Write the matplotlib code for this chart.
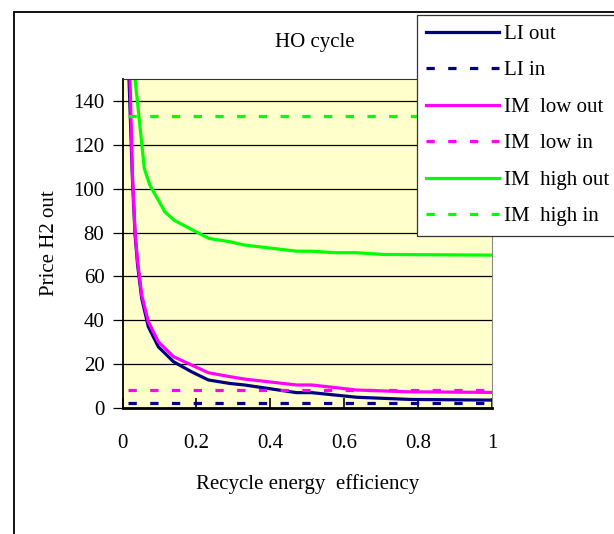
import matplotlib
matplotlib.use("Agg")
import matplotlib.pyplot as plt
from matplotlib.patches import Rectangle

plt.rcParams["font.family"] = ["Liberation Serif", "DejaVu Serif"]

# LI out
li_out_x = [0.016, 0.027, 0.034, 0.041, 0.052, 0.07, 0.097, 0.138, 0.187, 0.232, 0.29, 0.33, 0.471, 0.512, 0.634, 0.78, 1.0]
li_out_y = [158, 104, 79, 65, 50, 37, 27.9, 21.1, 16.5, 12.8, 11.2, 10.5, 7.0, 7.0, 4.9, 3.9, 3.6]
# IM low out
im_low_out_x = [0.016, 0.027, 0.034, 0.041, 0.052, 0.07, 0.097, 0.138, 0.187, 0.232, 0.29, 0.33, 0.471, 0.512, 0.634, 0.77, 1.0]
im_low_out_y = [178, 106, 80.3, 66.7, 51.5, 39.3, 30.2, 23.4, 19.6, 16.1, 14.3, 13.2, 10.5, 10.5, 8.2, 7.4, 7.1]
# IM high out
im_high_out_x = [0.02, 0.041, 0.059, 0.074, 0.115, 0.14, 0.196, 0.234, 0.291, 0.33, 0.471, 0.512, 0.575, 0.634, 0.706, 1.0]
im_high_out_y = [172, 138.8, 109.2, 101.6, 89.4, 85.6, 80.6, 77.3, 75.8, 74.3, 71.5, 71.5, 70.8, 70.8, 70.0, 69.7]
# "in" prices (constant)
in_x = [0.016, 1.0]
li_in_y = [2.4, 2.4]
im_low_in_y = [8.2, 8.2]
im_high_in_y = [133.2, 133.2]

navy = "#000080"
magenta = "#FF00FF"
green = "#00FF00"

W, H = 614, 534
fig = plt.figure(figsize=(W / 100, H / 100), dpi=100)
ax = fig.add_axes([122.5 / W, 1 - 408 / H, 369.5 / W, 329 / H])
ax.set_facecolor("#FFFFCC")

lw = 2.3
dash = (0, (2.6, 4.2))
ax.plot(li_out_x, li_out_y, color=navy, lw=lw, label="LI out")
ax.plot(in_x, li_in_y, color=navy, lw=lw, ls=dash, label="LI in")
ax.plot(im_low_out_x, im_low_out_y, color=magenta, lw=lw, label="IM  low out")
ax.plot(in_x, im_low_in_y, color=magenta, lw=lw, ls=dash, label="IM  low in")
ax.plot(im_high_out_x, im_high_out_y, color=green, lw=lw, label="IM  high out")
ax.plot(in_x, im_high_in_y, color=green, lw=lw, ls=dash, label="IM  high in")

ax.set_xlim(0, 1)
ax.set_ylim(0, 150)
ax.set_yticks(range(0, 141, 20))
ax.set_xticks([0, 0.2, 0.4, 0.6, 0.8, 1])
ax.set_xticklabels(["0", "0.2", "0.4", "0.6", "0.8", "1"])
ax.yaxis.grid(True, color="black", lw=0.9)
ax.set_axisbelow(True)
ax.tick_params(axis="x", direction="in", length=7, width=1.2, pad=19, labelsize=15)
ax.tick_params(axis="y", direction="out", length=7, width=0.9, pad=6, labelsize=15)
for s in ["left", "bottom"]:
    ax.spines[s].set_color("black")
ax.spines["left"].set_linewidth(1.3)
ax.spines["bottom"].set_linewidth(2)
ax.spines["top"].set_color("#333333")
ax.spines["right"].set_color("#888888")

ax.set_xlabel("Recycle energy  efficiency", fontsize=15)
ax.xaxis.set_label_coords(0.5, -0.2)
ax.set_ylabel("Price H2 out", fontsize=15)
ax.yaxis.set_label_coords(-0.172, 0.5)

fig.text(315 / W, 1 - 42 / H, "HO cycle", fontsize=15, ha="center", va="center")

leg = ax.legend(loc="upper left", bbox_to_anchor=(417 / W, 1 - 15 / H),
                bbox_transform=fig.transFigure, borderaxespad=0, fontsize=15,
                handlelength=3.5, handletextpad=0.25, labelspacing=0.81,
                borderpad=0.45, fancybox=False, framealpha=1, edgecolor="#333333")
leg.get_frame().set_linewidth(0.9)

fig.add_artist(Rectangle((13.7 / W, -0.1), 1.2, (H - 12.3) / H + 0.1,
                         transform=fig.transFigure, fill=False,
                         edgecolor="black", lw=1.3))

fig.savefig("out.png", dpi=100)
